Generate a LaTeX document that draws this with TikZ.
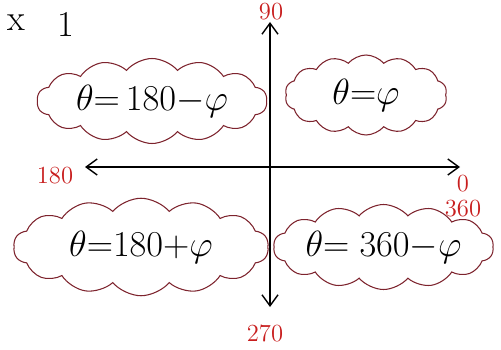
\documentclass[tikz,border=0pt]{standalone}
\usepackage{amsmath}
\usepackage{xcolor}
\usetikzlibrary{arrows.meta,shapes.symbols}
\definecolor{cloudred}{RGB}{125,35,45}
\definecolor{labelred}{RGB}{200,30,30}
\tikzset{
  cloudbox/.style={cloud, cloud puffs=14, cloud puff arc=100, cloud ignores aspect, draw=cloudred, semithick, inner xsep=-12pt, inner ysep=0pt},
  eqtext/.style={font=\fontsize{22}{26}\selectfont},
  angle/.style={text=labelred, font=\fontsize{14}{16}\selectfont},
  axis/.style={thick, {Straight Barb[length=2.2mm,width=3.2mm]}-{Straight Barb[length=2.2mm,width=3.2mm]}}
}
\begin{document}
\begin{tikzpicture}
  \useasboundingbox (0,0) rectangle (10.02,6.98);
  % 标题
  \node[font=\huge] (ex) at (0.32,6.52) {x};
  \node[font=\huge] (num) at (1.32,6.5) {1};
  % 坐标轴
  \coordinate (top) at (5.4,6.54);
  \coordinate (bottom) at (5.4,0.84);
  \coordinate (left) at (1.7,3.64);
  \coordinate (right) at (9.2,3.64);
  \draw[axis] (left) -- (right);
  \draw[axis] (bottom) -- (top);
  % 角度
  \node[angle] (a90) at (5.42,6.74) {90};
  \node[angle] (a180) at (1.1,3.46) {180};
  \node[angle] (a0) at (9.26,3.3) {0};
  \node[angle] (a360) at (9.26,2.8) {360};
  \node[angle] (a270) at (5.3,0.32) {270};
  % 四个象限
  \node[cloudbox, minimum width=4.6cm, minimum height=1.7cm, eqtext] (q2) at (3.04,4.96) {$\theta{=}\,180{-}\varphi$};
  \node[cloudbox, minimum width=3.24cm, minimum height=1.6cm, eqtext] (q1) at (7.32,5.08) {$\theta{=}\varphi$};
  \node[cloudbox, minimum width=5.1cm, minimum height=1.95cm, eqtext] (q3) at (2.82,2.04) {$\theta{=}180{+}\varphi$};
  \node[cloudbox, minimum width=4.4cm, minimum height=1.7cm, eqtext] (q4) at (7.67,2.04) {$\theta{=}\;360{-}\varphi$};
\end{tikzpicture}
\end{document}
